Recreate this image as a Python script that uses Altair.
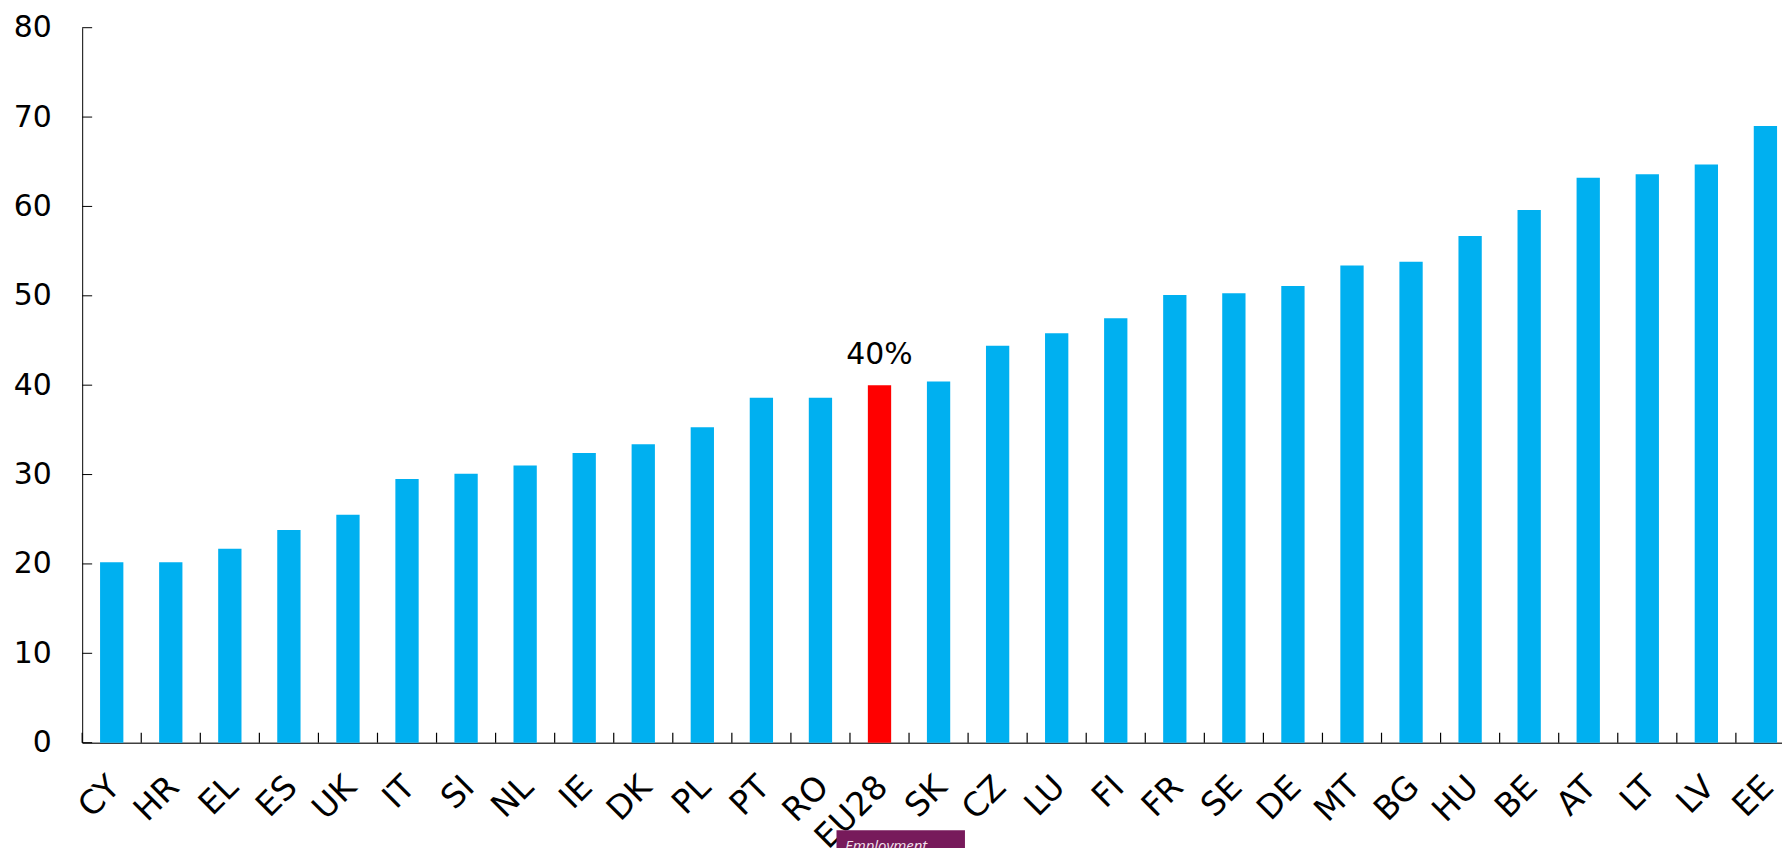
import altair as alt
import pandas as pd

countries = ["CY", "HR", "EL", "ES", "UK", "IT", "SI", "NL", "IE", "DK", "PL", "PT", "RO",
             "EU28", "SK", "CZ", "LU", "FI", "FR", "SE", "DE", "MT", "BG", "HU", "BE",
             "AT", "LT", "LV", "EE"]
values = [20.2, 20.2, 21.7, 23.8, 25.5, 29.5, 30.1, 31.0, 32.4, 33.4, 35.3, 38.6, 38.6,
          40.0, 40.4, 44.4, 45.8, 47.5, 50.1, 50.3, 51.1, 53.4, 53.8, 56.7, 59.6,
          63.2, 63.6, 64.7, 69.0]
highlight = "EU28"
annotation = "40%"
y_ticks = [0, 10, 20, 30, 40, 50, 60, 70, 80]
footer_label = "Employment"

W = 1720
H = 718
FONT = "DejaVu Sans"

df = pd.DataFrame({"country": countries, "value": values})
df["is_hl"] = df["country"] == highlight
df["note"] = [annotation if c == highlight else "" for c in countries]

xscale = alt.Scale(paddingInner=0, paddingOuter=0)
yscale = alt.Scale(domain=[0, 80], nice=False)

xaxis = alt.Axis(title=None, labelAngle=-45, labelAlign="right", labelBaseline="middle",
                 labelFontSize=33, labelFont=FONT, labelColor="#000000",
                 labelPadding=39, labelOffset=3, ticks=False, tickSize=0,
                 domainColor="#404040", domainWidth=1.5, grid=False)
yaxis = alt.Axis(title=None, values=y_ticks, labelFontSize=30, labelFont=FONT,
                 labelColor="#000000", labelPadding=31, ticks=False, tickSize=0,
                 domainColor="#000000", domainWidth=1, grid=False)

base = alt.Chart(df)

bars = base.mark_bar(width=23.4).encode(
    x=alt.X("country:N", sort=countries, scale=xscale, axis=xaxis),
    y=alt.Y("value:Q", scale=yscale, axis=yaxis),
    color=alt.condition(alt.datum.is_hl, alt.value("#FF0000"), alt.value("#00B0F0")),
)

xticks = base.mark_rule(color="#000000", strokeWidth=1.2).encode(
    x=alt.X("country:N", sort=countries, scale=xscale, bandPosition=0, axis=xaxis),
    y=alt.value(H - 10),
    y2=alt.value(H),
)

yticks = alt.Chart(pd.DataFrame({"t": y_ticks})).mark_rule(color="#000000", strokeWidth=1).encode(
    y=alt.Y("t:Q", scale=yscale, axis=yaxis),
    x=alt.value(0),
    x2=alt.value(10),
)

note = base.transform_filter(alt.datum.is_hl).mark_text(
    fontSize=30, font=FONT, color="#000000", baseline="alphabetic", dy=-21
).encode(
    x=alt.X("country:N", sort=countries, scale=xscale, axis=xaxis),
    y=alt.Y("value:Q", scale=yscale, axis=yaxis),
    text="note:N",
)

box = alt.Chart(pd.DataFrame({"label": [footer_label]})).mark_rect(color="#771A5B").encode(
    x=alt.value(757.5), x2=alt.value(886.5), y=alt.value(806), y2=alt.value(840)
)
box_text = alt.Chart(pd.DataFrame({"label": [footer_label]})).mark_text(
    fontSize=15, font="Open Sans", fontStyle="italic", color="#F3E3EE", align="left",
    baseline="alphabetic"
).encode(x=alt.value(766), y=alt.value(827), text="label:N")

chart = alt.layer(bars, xticks, yticks, note, box, box_text).properties(
    width=W, height=H,
    background="#FFFFFF",
    autosize=alt.AutoSizeParams(type="none"),
    padding={"left": 74.5, "top": 18, "right": -13, "bottom": 104},
).configure_view(stroke="transparent", strokeWidth=0).configure_axis(grid=False)

chart.save("out.html", embed_options={"renderer": "svg", "actions": False})
